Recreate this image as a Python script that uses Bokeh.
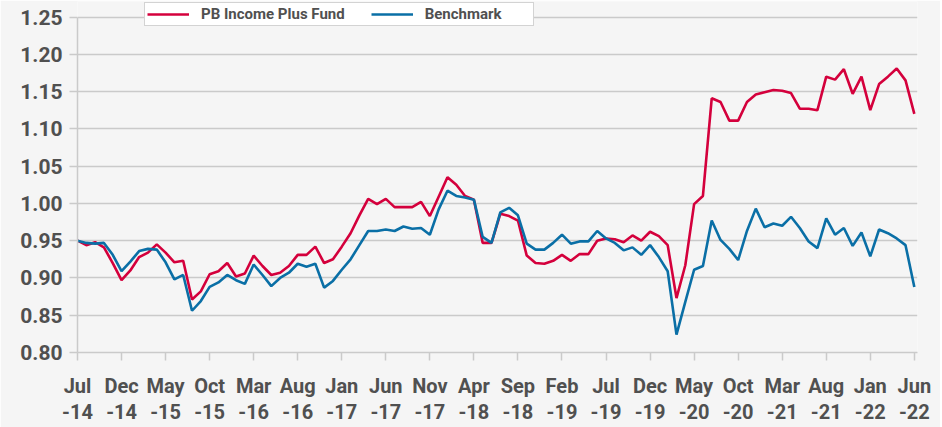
from bokeh.plotting import figure
from bokeh.models import FixedTicker, Legend, LegendItem, NumeralTickFormatter, Range1d
from bokeh.embed import file_html
from bokeh.resources import INLINE

# ---- data -------------------------------------------------------------
tick_labels = ["Jul\n-14", "Dec\n-14", "May\n-15", "Oct\n-15", "Mar\n-16",
               "Aug\n-16", "Jan\n-17", "Jun\n-17", "Nov\n-17", "Apr\n-18",
               "Sep\n-18", "Feb\n-19", "Jul\n-19", "Dec\n-19", "May\n-20",
               "Oct\n-20", "Mar\n-21", "Aug\n-21", "Jan\n-22", "Jun\n-22"]
tick_step = 5  # months between labelled ticks

fund = [0.950, 0.944, 0.948, 0.941, 0.920, 0.897, 0.910, 0.928, 0.934, 0.945,
        0.934, 0.921, 0.923, 0.871, 0.882, 0.905, 0.909, 0.920, 0.902, 0.906,
        0.930, 0.916, 0.904, 0.907, 0.916, 0.931, 0.931, 0.942, 0.920, 0.925,
        0.942, 0.960, 0.984, 1.006, 0.999, 1.006, 0.995, 0.995, 0.995, 1.002,
        0.983, 1.009, 1.035, 1.025, 1.010, 1.005, 0.947, 0.947, 0.986, 0.983,
        0.977, 0.930, 0.920, 0.919, 0.923, 0.931, 0.923, 0.932, 0.932, 0.950,
        0.953, 0.952, 0.948, 0.957, 0.950, 0.962, 0.956, 0.944, 0.873, 0.917,
        0.999, 1.010, 1.141, 1.136, 1.111, 1.111, 1.136, 1.146, 1.149, 1.152,
        1.151, 1.148, 1.127, 1.127, 1.125, 1.170, 1.166, 1.180, 1.147, 1.170,
        1.125, 1.160, 1.170, 1.181, 1.165, 1.120]

bench = [0.950, 0.947, 0.946, 0.947, 0.931, 0.909, 0.922, 0.936, 0.939, 0.938,
         0.921, 0.898, 0.904, 0.856, 0.869, 0.888, 0.894, 0.904, 0.897, 0.892,
         0.918, 0.904, 0.889, 0.900, 0.907, 0.919, 0.915, 0.919, 0.887, 0.896,
         0.911, 0.925, 0.944, 0.963, 0.963, 0.965, 0.963, 0.969, 0.966, 0.967,
         0.958, 0.992, 1.017, 1.010, 1.008, 1.005, 0.955, 0.947, 0.988, 0.994,
         0.984, 0.946, 0.938, 0.938, 0.947, 0.958, 0.946, 0.949, 0.949, 0.963,
         0.953, 0.947, 0.937, 0.941, 0.931, 0.944, 0.928, 0.909, 0.824, 0.868,
         0.911, 0.916, 0.977, 0.951, 0.939, 0.924, 0.963, 0.993, 0.968, 0.973,
         0.970, 0.982, 0.967, 0.949, 0.940, 0.980, 0.958, 0.967, 0.943, 0.961,
         0.929, 0.965, 0.960, 0.953, 0.944, 0.888]

y_ticks = [0.80, 0.85, 0.90, 0.95, 1.00, 1.05, 1.10, 1.15, 1.20, 1.25]

series_names = ["PB Income Plus Fund", "Benchmark"]
series_colors = ["#d4003c", "#0a6fa6"]

# ---- layout ------------------------------------------------------------
months = list(range(len(fund)))
FONT = "Roboto"
TEXT = "#505050"
GRID = "#cacaca"
BG = "#f5f5f5"

FRAME_TOP = 1          # px, top of the drawing frame (room for the legend)
TOP_TICK_PX = 16.6     # px, where the highest tick sits
BOTTOM_PX = 354        # px, where the lowest tick sits
px_per_unit = (BOTTOM_PX - TOP_TICK_PX) / (y_ticks[-1] - y_ticks[0])
y_end = y_ticks[-1] + (TOP_TICK_PX - FRAME_TOP) / px_per_unit

p = figure(width=940, height=427, output_backend="svg", toolbar_location=None,
           x_range=Range1d(0, 95.36), y_range=Range1d(y_ticks[0], y_end),
           min_border_left=77, min_border_right=23, min_border_top=FRAME_TOP,
           min_border_bottom=427 - BOTTOM_PX)
p.background_fill_color = BG
p.border_fill_color = BG
p.outline_line_color = None

r1 = p.line(months, fund, line_color=series_colors[0], line_width=2.6)
r2 = p.line(months, bench, line_color=series_colors[1], line_width=2.6)

# x axis
tick_pos = [i * tick_step for i in range(len(tick_labels))]
p.xaxis.ticker = FixedTicker(ticks=tick_pos)
p.xaxis.major_label_overrides = {t: lab for t, lab in zip(tick_pos, tick_labels)}
p.xaxis.major_label_text_font = FONT
p.xaxis.major_label_text_font_style = "bold"
p.xaxis.major_label_text_font_size = "20px"
p.xaxis.major_label_text_color = TEXT
p.xaxis.major_label_text_line_height = 1.12
p.xaxis.major_label_standoff = 13
p.xaxis.axis_line_color = GRID
p.xaxis.axis_line_width = 1.5
p.xaxis.major_tick_line_color = GRID
p.xaxis.major_tick_line_width = 1.5
p.xaxis.major_tick_out = 8
p.xaxis.major_tick_in = 0
p.xaxis.minor_tick_line_color = None

# y axis
p.yaxis.ticker = FixedTicker(ticks=y_ticks)
p.yaxis.bounds = (y_ticks[0], y_ticks[-1])
p.yaxis.formatter = NumeralTickFormatter(format="0.00")
p.yaxis.major_label_text_font = FONT
p.yaxis.major_label_text_font_style = "bold"
p.yaxis.major_label_text_font_size = "21px"
p.yaxis.major_label_text_color = TEXT
p.yaxis.major_label_standoff = 7
p.yaxis.axis_line_color = GRID
p.yaxis.axis_line_width = 1.5
p.yaxis.major_tick_line_color = GRID
p.yaxis.major_tick_line_width = 1.5
p.yaxis.major_tick_out = 8
p.yaxis.major_tick_in = 0
p.yaxis.minor_tick_line_color = None

p.xgrid.grid_line_color = None
p.ygrid.grid_line_color = GRID
p.ygrid.grid_line_width = 1.5

legend = Legend(items=[LegendItem(label=series_names[0], renderers=[r1]),
                       LegendItem(label=series_names[1], renderers=[r2])],
                orientation="horizontal", location=(67, BOTTOM_PX - 28),
                glyph_width=42, glyph_height=14, label_standoff=12, spacing=26,
                padding=2, label_width=106, label_height=14,
                label_text_font=FONT, label_text_font_style="bold",
                label_text_font_size="15px", label_text_color=TEXT,
                border_line_color="#a8a8a8", border_line_width=1.5,
                background_fill_color="white", background_fill_alpha=1.0)
p.add_layout(legend, "center")

open("out.html", "w").write(file_html(p, INLINE))
